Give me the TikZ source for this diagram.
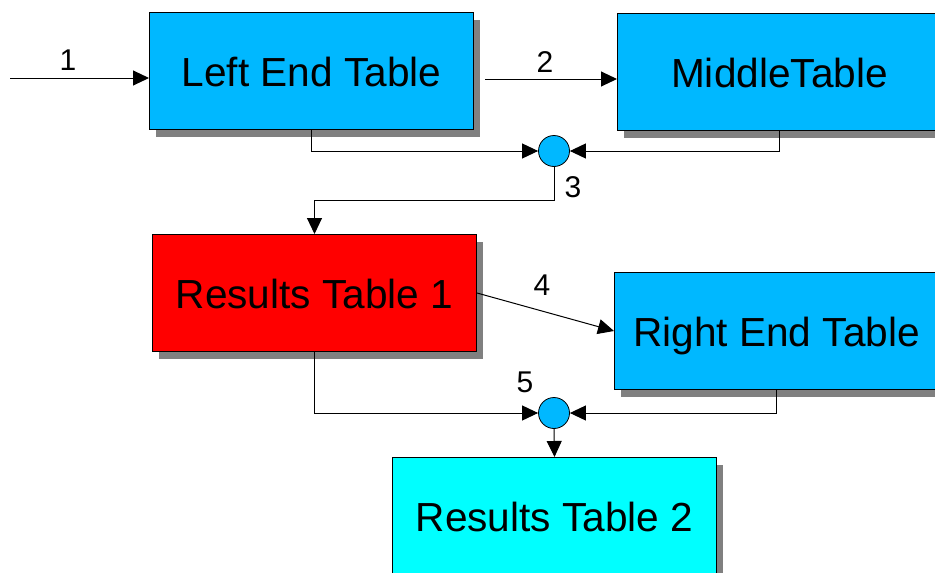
\documentclass[tikz,border=0pt]{standalone}
\usepackage{fontspec}
\setmainfont{Liberation Sans}
\usetikzlibrary{arrows.meta,shadows,calc}
\definecolor{tblblue}{HTML}{00B8FF}
\definecolor{tblred}{HTML}{FF0000}
\definecolor{tblcyan}{HTML}{00FFFF}
\definecolor{shadowgray}{HTML}{808080}
\tikzset{
  tablebox/.style={draw=black, line width=1pt, inner sep=0pt, anchor=north west,
    minimum width=324pt, minimum height=117pt, text height=30pt, text depth=0pt,
    font=\fontsize{40.6}{48}\selectfont,
    drop shadow={shadow xshift=6pt, shadow yshift=-7pt, fill=shadowgray, opacity=1}},
  joint/.style={circle, draw=black, line width=0.8pt, fill=tblblue, minimum size=31pt, inner sep=0pt},
  conn/.style={line width=1pt, draw=black},
  arr/.style={conn, -{Triangle[length=16pt,width=15pt]}},
  lbl/.style={inner sep=0pt, font=\fontsize{30}{36}\selectfont}
}
\begin{document}
\begin{tikzpicture}[x=1pt,y=-1pt]
\clip (0,0) rectangle (935,573);
\fill[white] (0,0) rectangle (935,573);
% tables
\node[tablebox, fill=tblblue] (L) at (149,12) {Left End Table};
\node[tablebox, fill=tblblue] (M) at (617,13) {MiddleTable};
\node[tablebox, fill=tblred] (R1) at (152,234) {Results Table 1};
\node[tablebox, fill=tblblue] (R) at (614,272) {Right End Table};
\node[tablebox, fill=tblcyan] (R2) at (392,457) {Results Table 2};
% joints
\node[joint] (c1) at (554,151) {};
\node[joint] (c2) at (554,413) {};
% free ends
\coordinate (s1) at (10,78);
\coordinate (s2) at (485,79);
\coordinate (k3) at (554,200);
% connectors
\draw[arr] (s1) -- (s1 -| L.west);
\draw[arr] (s2) -- (s2 -| M.west);
\draw[arr] (L.south) |- (c1.west);
\draw[arr] (M.south) |- (c1.east);
\draw[arr] (c1.south) -- (k3) -| (R1.north);
\draw[arr] (R1.east) -- (R.west);
\draw[arr] (R1.south) |- (c2.west);
\draw[arr] (R.south) |- (c2.east);
\draw[arr] (c2.south) -- (R2.north);
% labels
\node[lbl] (l1) at (68,60) {1};
\node[lbl] (l2) at (545,62) {2};
\node[lbl] (l3) at (573,187) {3};
\node[lbl] (l4) at (542,285) {4};
\node[lbl] (l5) at (525,382) {5};
\end{tikzpicture}
\end{document}
